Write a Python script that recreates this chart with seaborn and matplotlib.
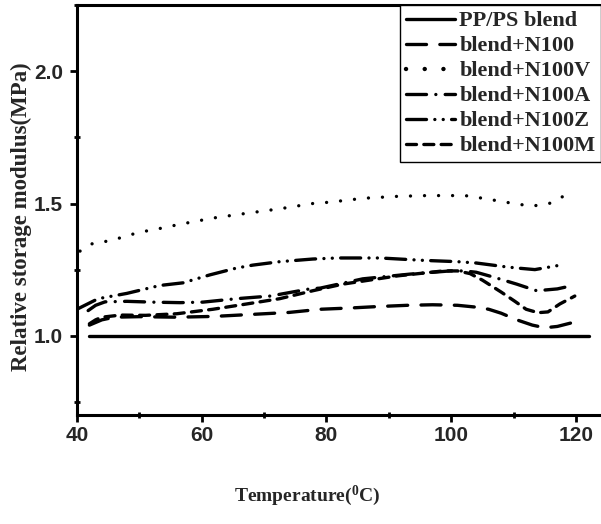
import matplotlib
matplotlib.use("Agg")
import matplotlib.pyplot as plt
import seaborn as sns
import pandas as pd
from matplotlib.ticker import MultipleLocator

# ---- data ----
t_pp = [42, 60, 80, 100, 122]
v_pp = [1.0, 1.0, 1.0, 1.0, 1.0]

t_n100 = [42, 44, 46, 50, 56, 62, 66, 70, 74, 79, 84, 88, 93, 97, 101, 104, 106, 108, 110.5, 113, 115, 117, 119.5]
v_n100 = [1.04, 1.06, 1.07, 1.072, 1.07, 1.073, 1.078, 1.083, 1.088, 1.10, 1.105, 1.11, 1.115, 1.117, 1.115, 1.108, 1.10, 1.085, 1.06, 1.04, 1.03, 1.035, 1.05]

t_n100v = [40.5, 42.6, 45.6, 48.2, 50.9, 53.6, 56.2, 61.8, 67.2, 72.5, 77.8, 80.5, 86, 91.3, 96, 99.3, 102.2, 105, 107.5, 110, 112.9, 115.7, 118.6]
v_n100v = [1.32, 1.35, 1.36, 1.38, 1.395, 1.407, 1.42, 1.445, 1.463, 1.48, 1.50, 1.505, 1.52, 1.527, 1.53, 1.53, 1.53, 1.52, 1.51, 1.50, 1.49, 1.50, 1.535]

t_n100a = [41.8, 43, 44.5, 48, 52, 56.5, 60.2, 65.6, 71, 77.3, 79, 85.8, 93.4, 99.8, 102, 104, 107, 110.5, 113.7, 117, 119.5]
v_n100a = [1.095, 1.115, 1.128, 1.13, 1.127, 1.125, 1.127, 1.14, 1.15, 1.177, 1.18, 1.215, 1.233, 1.245, 1.245, 1.24, 1.22, 1.195, 1.17, 1.177, 1.19]

t_n100z = [40.0, 43.4, 48, 53.3, 57, 61.3, 65.6, 68.2, 72.5, 77.8, 81.7, 88.6, 95.5, 101, 104, 108.9, 111, 113.4, 115.8, 117]
v_n100z = [1.10, 1.14, 1.16, 1.19, 1.20, 1.23, 1.256, 1.267, 1.28, 1.29, 1.294, 1.294, 1.285, 1.28, 1.275, 1.26, 1.255, 1.25, 1.26, 1.265]

t_n100m = [42, 43, 44, 47, 51, 56, 61.8, 67.2, 72.5, 77.8, 82.6, 91.3, 98.7, 101, 103, 105, 108, 110.2, 112, 113.9, 115.5, 117.4, 119.8]
v_n100m = [1.045, 1.06, 1.07, 1.078, 1.077, 1.083, 1.10, 1.12, 1.14, 1.17, 1.195, 1.226, 1.245, 1.245, 1.235, 1.21, 1.165, 1.13, 1.10, 1.087, 1.09, 1.12, 1.15]

series_names = ["PP/PS blend", "blend+N100", "blend+N100V", "blend+N100A", "blend+N100Z", "blend+N100M"]
series_t = [t_pp, t_n100, t_n100v, t_n100a, t_n100z, t_n100m]
series_v = [v_pp, v_n100, v_n100v, v_n100a, v_n100z, v_n100m]

x_ticks = [40, 60, 80, 100, 120]
y_ticks = [1.0, 1.5, 2.0]

frames = []
for name, t, v in zip(series_names, series_t, series_v):
    frames.append(pd.DataFrame({"Temperature": t, "Modulus": v, "Sample": name}))
df = pd.concat(frames, ignore_index=True)

# ---- styling ----
sns.set_theme(style="ticks")
plt.rcParams["font.family"] = ["Liberation Serif", "DejaVu Serif"]
plt.rcParams["mathtext.fontset"] = "custom"
plt.rcParams["mathtext.rm"] = "Liberation Serif:bold"
plt.rcParams["mathtext.bf"] = "Liberation Serif:bold"
plt.rcParams["mathtext.it"] = "Liberation Serif:bold"

fig = plt.figure(figsize=(6.01, 5.24), dpi=100)
ax = fig.add_axes([0.128, 0.208, 0.872, 0.782])

dash_map = {
    "PP/PS blend": "",
    "blend+N100": (6, 4),
    "blend+N100V": (0.01, 4.2),
    "blend+N100A": (6, 2.8, 0.01, 2.8),
    "blend+N100Z": (6, 2.5, 0.01, 2.5, 0.01, 2.5),
    "blend+N100M": (3, 2.2),
}
sns.lineplot(data=df, x="Temperature", y="Modulus", style="Sample",
             style_order=series_names, dashes=dash_map, color="black",
             linewidth=2.4, estimator=None, sort=True, ax=ax)

for line in ax.get_lines():
    line.set_dash_capstyle("round")
    if line.get_label() == "blend+N100V":
        line.set_linewidth(3.2)

ax.set_xlim(40, 124)
ax.set_ylim(0.7, 2.25)
ax.set_xticks(x_ticks)
ax.set_yticks(y_ticks)
ax.xaxis.set_minor_locator(MultipleLocator(10))
ax.yaxis.set_minor_locator(MultipleLocator(0.25))
ax.set_xticklabels([str(x) for x in x_ticks])
ax.set_yticklabels([f"{y:.1f}" for y in y_ticks])

for lab in ax.get_xticklabels() + ax.get_yticklabels():
    lab.set_fontfamily(["Liberation Sans", "DejaVu Sans"])
    lab.set_fontweight("bold")
    lab.set_fontsize(15)

ax.tick_params(which="major", direction="out", length=5, width=2, color="black", pad=3)
ax.tick_params(axis="y", which="major", pad=5)
ax.tick_params(which="minor", direction="inout", length=5, width=2, color="black")

for side in ["left", "bottom", "top"]:
    ax.spines[side].set_linewidth(2.2)
    ax.spines[side].set_color("black")
ax.spines["right"].set_visible(False)

ax.set_xlabel("Temperature($^0$C)", fontsize=14, fontweight="bold")
ax.set_ylabel("Relative storage modulus(MPa)", fontsize=16.5, fontweight="bold")
ax.xaxis.set_label_coords(0.439, -0.168)
ax.yaxis.set_label_coords(-0.086, 0.483)

handles, labels = ax.get_legend_handles_labels()
leg = ax.legend(handles, labels, loc="upper right", bbox_to_anchor=(1.0, 1.0),
                borderaxespad=0, frameon=True, fancybox=False, framealpha=1,
                edgecolor="black", handlelength=2.2, handletextpad=0.2,
                labelspacing=0.2, borderpad=0.25,
                prop={"family": "Liberation Serif", "weight": "bold", "size": 16})
leg.get_frame().set_linewidth(1.0)
for lh in leg.get_lines():
    lh.set_dash_capstyle("round")

fig.savefig("out.png", dpi=100)
